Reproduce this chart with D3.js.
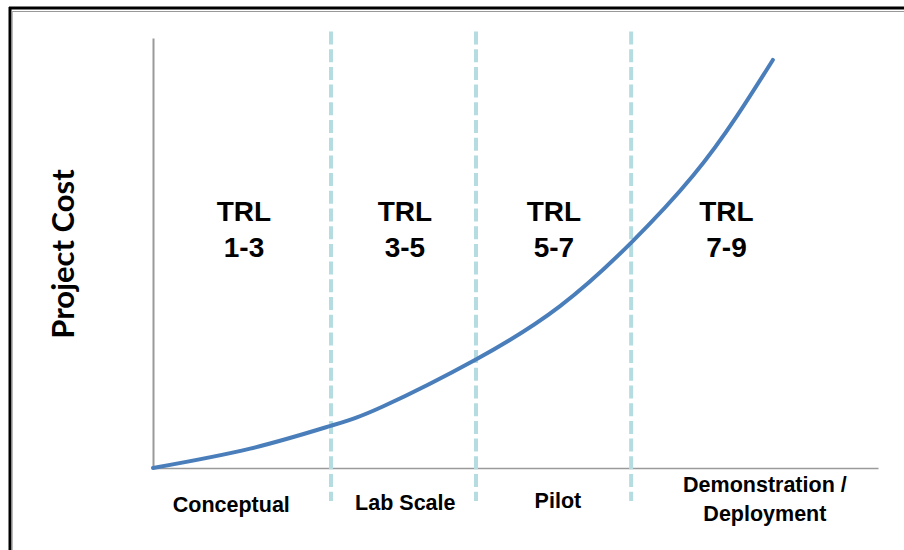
<!DOCTYPE html>
<html>
<head>
<meta charset="utf-8">
<script src="https://cdn.jsdelivr.net/npm/d3@7"></script>
<style>
  body { margin: 0; background: #fff; }
  svg { display: block; }
  .lbl { font-family: "Liberation Sans", Arial, sans-serif; font-weight: bold; fill: #000; }
</style>
</head>
<body>
<svg id="chart" width="904" height="550"></svg>
<script>
// cost curve, x and y in percent of the axis length
var curveX = [0, 13.4, 24.5, 31.7, 44.6, 56.1, 65.9, 74.5, 80.6, 85.5];
var curveY = [0, 4.5, 9.8, 14.3, 25.3, 37.6, 52.3, 68.0, 82.0, 94.9];

// stage boundaries (dashed lines)
var dividers = [24.55, 44.55, 65.95];

// TRL labels
var trlTop = ['TRL', 'TRL', 'TRL', 'TRL'];
var trlBottom = ['1-3', '3-5', '5-7', '7-9'];
var trlX = [12.55, 34.75, 55.3, 79.1];

// stage names along the bottom
var stages = [['Conceptual'], ['Lab Scale'], ['Pilot'], ['Demonstration /', 'Deployment']];
var stageX = [10.8, 34.8, 55.85, 84.4];

var yTitle = 'Project Cost';

var X0 = 153, X1 = 878, Y0 = 468, Y1 = 38;

var x = d3.scaleLinear().domain([0, 100]).range([X0, X1]);
var y = d3.scaleLinear().domain([0, 100]).range([Y0, Y1]);

var svg = d3.select('#chart');

// frame
svg.append('line').attr('x1', 9).attr('x2', 904).attr('y1', 8).attr('y2', 8)
  .attr('stroke', '#000').attr('stroke-width', 3);
svg.append('line').attr('x1', 10).attr('x2', 10).attr('y1', 7).attr('y2', 550)
  .attr('stroke', '#000').attr('stroke-width', 3);
svg.append('line').attr('x1', 12).attr('x2', 904).attr('y1', 11.5).attr('y2', 11.5)
  .attr('stroke', '#999').attr('stroke-width', 1.2);
svg.append('line').attr('x1', 12.3).attr('x2', 12.3).attr('y1', 11).attr('y2', 550)
  .attr('stroke', '#aaa').attr('stroke-width', 1);

// axes, no ticks
svg.append('g')
  .attr('transform', 'translate(0,' + Y0 + ')')
  .call(d3.axisBottom(x).tickValues([]).tickSizeOuter(0))
  .call(function (g) { g.select('.domain').attr('stroke', '#9a9a9a').attr('stroke-width', 1.6); });

svg.append('g')
  .attr('transform', 'translate(' + X0 + ',0)')
  .call(d3.axisLeft(y).tickValues([]).tickSizeOuter(0))
  .call(function (g) { g.select('.domain').attr('stroke', '#9a9a9a').attr('stroke-width', 2); });

// dashed stage dividers
svg.append('g')
  .selectAll('line')
  .data(dividers)
  .join('line')
  .attr('x1', function (d) { return x(d); })
  .attr('x2', function (d) { return x(d); })
  .attr('y1', 31.5)
  .attr('y2', 501)
  .attr('stroke', '#b5dde1')
  .attr('stroke-width', 4)
  .attr('stroke-dasharray', '13 4.7');

// cost curve
var pts = curveX.map(function (v, i) { return [v, curveY[i]]; });
var line = d3.line()
  .x(function (d) { return x(d[0]); })
  .y(function (d) { return y(d[1]); })
  .curve(d3.curveNatural);

svg.append('path')
  .attr('d', line(pts))
  .attr('fill', 'none')
  .attr('stroke', '#4a7ebb')
  .attr('stroke-width', 4)
  .attr('stroke-linecap', 'round');

// TRL labels
var trl = svg.append('g').selectAll('text')
  .data(trlX)
  .join('text')
  .attr('class', 'lbl')
  .attr('text-anchor', 'middle')
  .attr('font-size', 28)
  .attr('x', function (d) { return x(d); });
trl.append('tspan').attr('x', function (d) { return x(d); }).attr('y', 221)
  .text(function (d, i) { return trlTop[i]; });
trl.append('tspan').attr('x', function (d) { return x(d); }).attr('y', 257)
  .text(function (d, i) { return trlBottom[i]; });

// stage names
svg.append('g').selectAll('text')
  .data(stages)
  .join('text')
  .attr('class', 'lbl')
  .attr('text-anchor', 'middle')
  .attr('font-size', 21.5)
  .each(function (d, i) {
    var t = d3.select(this);
    var base = d.length > 1 ? 492 : [512, 510, 508][i];
    d.forEach(function (s, k) {
      t.append('tspan').attr('x', x(stageX[i])).attr('y', base + k * 28.5).text(s);
    });
  });

// y title
svg.append('text')
  .attr('transform', 'translate(74,254) rotate(-90)')
  .attr('text-anchor', 'middle')
  .attr('font-family', 'Lato, "Open Sans", sans-serif')
  .attr('font-weight', 'bold')
  .attr('font-size', 31)
  .attr('fill', '#000')
  .text(yTitle);
</script>
</body>
</html>
